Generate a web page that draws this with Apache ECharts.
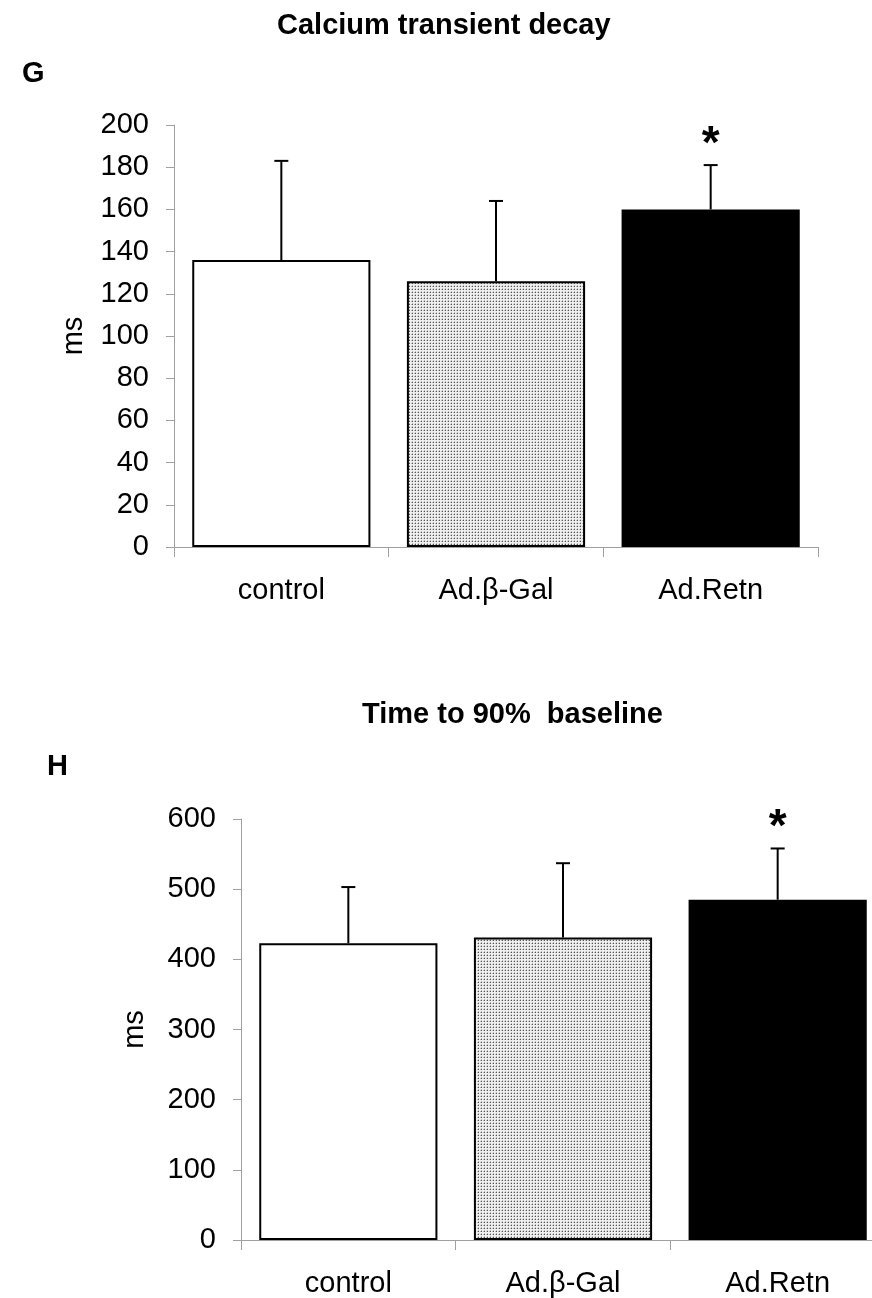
<!DOCTYPE html>
<html>
<head>
<meta charset="utf-8">
<script src="https://cdn.jsdelivr.net/npm/echarts@6/dist/echarts.min.js"></script>
<style>
html,body{margin:0;padding:0;background:#fff;overflow:hidden;}
#chart{width:900px;height:1298px;}
</style>
</head>
<body>
<div id="chart"></div>
<script>
// ---- data ----
const categories = ['control', 'Ad.β-Gal', 'Ad.Retn'];
const decayMean = [136, 126, 160];
const decayErr = [47, 38, 21];
const baselineMean = [423, 431, 485];
const baselineErr = [80, 106, 73];
const significance = ['', '', '*'];
const decayTicks = {min: 0, max: 200, interval: 20};
const baselineTicks = {min: 0, max: 600, interval: 100};

// ---- styles ----
const FONT = 'Liberation Sans, Arial, sans-serif';
function dotPattern() {
  const c = document.createElement('canvas');
  c.width = 3; c.height = 3;
  const ctx = c.getContext('2d');
  ctx.fillStyle = '#efefef';
  ctx.fillRect(0, 0, 3, 3);
  ctx.fillStyle = '#bdbdbd';
  ctx.fillRect(1, 0, 1, 1);
  ctx.fillRect(0, 1, 1, 1);
  ctx.fillStyle = '#555555';
  ctx.fillRect(1, 1, 1, 1);
  return c;
}
const fills = ['#ffffff', {image: dotPattern(), repeat: 'repeat'}, '#000000'];

function barData(means) {
  return means.map((v, i) => ({
    value: v,
    itemStyle: {color: fills[i], borderColor: '#000', borderWidth: 2}
  }));
}
function errData(means, errs) {
  return means.map((v, i) => [i, v, v + errs[i], significance[i]]);
}
function errRender(params, api) {
  const x = api.value(0);
  const lo = api.coord([x, api.value(1)]);
  const hi = api.coord([x, api.value(2)]);
  const cap = 7;
  const children = [
    {type: 'line', shape: {x1: lo[0], y1: lo[1], x2: hi[0], y2: hi[1]}, style: {stroke: '#000', lineWidth: 2}},
    {type: 'line', shape: {x1: hi[0] - cap, y1: hi[1], x2: hi[0] + cap, y2: hi[1]}, style: {stroke: '#000', lineWidth: 2}}
  ];
  const mark = api.value(3);
  if (mark) {
    children.push({type: 'text', style: {x: hi[0], y: hi[1] - 20, text: '*', fill: '#000',
      font: 'bold 46px ' + FONT, align: 'center', verticalAlign: 'middle'}});
  }
  return {type: 'group', children: children};
}

function xAxisCfg(gi) {
  return {
    type: 'category', gridIndex: gi, data: categories,
    axisLine: {lineStyle: {color: '#a0a0a0', width: 1}},
    axisTick: {show: true, length: 10, lineStyle: {color: '#a0a0a0'}},
    axisLabel: {color: '#000', fontSize: 29, fontFamily: FONT, margin: 29, interval: 0}
  };
}
function yAxisCfg(gi, t, gap) {
  return {
    type: 'value', gridIndex: gi, min: t.min, max: t.max, interval: t.interval,
    name: 'ms', nameLocation: 'middle', nameRotate: 90, nameGap: gap,
    nameTextStyle: {color: '#000', fontSize: 29, fontFamily: FONT},
    axisLine: {show: true, lineStyle: {color: '#a0a0a0', width: 1}},
    axisTick: {show: true, length: 8, lineStyle: {color: '#a0a0a0'}},
    splitLine: {show: false},
    axisLabel: {color: '#000', fontSize: 29, fontFamily: FONT, margin: 25}
  };
}

const titleStyle = {fontSize: 29, fontWeight: 'bold', fontFamily: FONT, color: '#000'};
const chart = echarts.init(document.getElementById('chart'), null, {renderer: 'canvas'});
chart.setOption({
  backgroundColor: '#fff',
  animation: false,
  title: [
    {text: 'Calcium transient decay', left: 277, top: 11, padding: 0, textStyle: titleStyle},
    {text: 'G', left: 22, top: 59, padding: 0, textStyle: titleStyle},
    {text: 'Time to 90%  baseline', left: 362, top: 700, padding: 0, textStyle: titleStyle},
    {text: 'H', left: 47, top: 752, padding: 0, textStyle: titleStyle}
  ],
  grid: [
    {left: 174, top: 125, width: 644, height: 422},
    {left: 241, top: 819, width: 644, height: 421}
  ],
  xAxis: [xAxisCfg(0), xAxisCfg(1)],
  yAxis: [yAxisCfg(0, decayTicks, 86), yAxisCfg(1, baselineTicks, 92)],
  series: [
    {type: 'bar', xAxisIndex: 0, yAxisIndex: 0, barWidth: '83%', data: barData(decayMean), z: 2},
    {type: 'custom', xAxisIndex: 0, yAxisIndex: 0, renderItem: errRender, data: errData(decayMean, decayErr), z: 3, clip: false},
    {type: 'bar', xAxisIndex: 1, yAxisIndex: 1, barWidth: '83%', data: barData(baselineMean), z: 2},
    {type: 'custom', xAxisIndex: 1, yAxisIndex: 1, renderItem: errRender, data: errData(baselineMean, baselineErr), z: 3, clip: false}
  ]
});
</script>
</body>
</html>
